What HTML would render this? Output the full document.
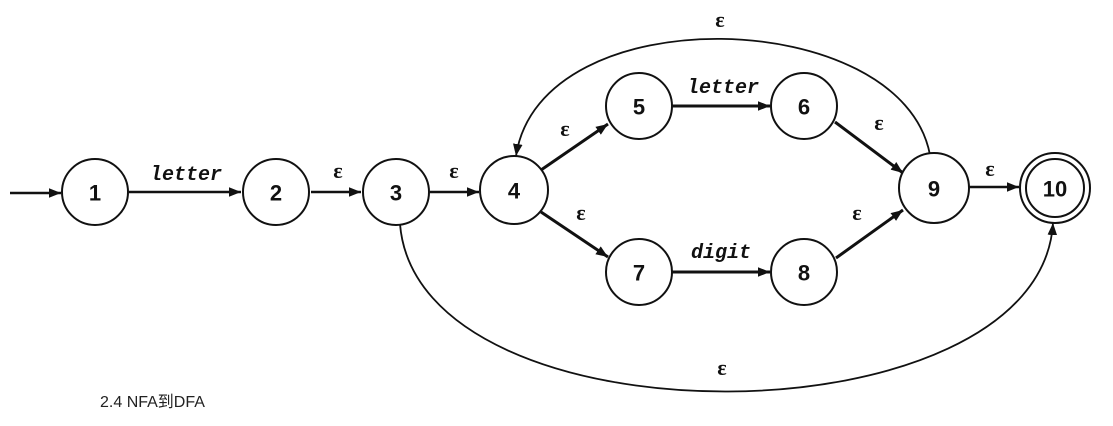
<!DOCTYPE html>
<html><head><meta charset="utf-8"><style>
html,body{margin:0;padding:0;background:#fff;width:1113px;height:426px;overflow:hidden}
svg{display:block}
.n{font-family:"Liberation Sans",sans-serif;font-size:22px;font-weight:bold;fill:#111;text-anchor:middle;dominant-baseline:central}
.l{font-family:"Liberation Mono",monospace;font-size:20px;font-weight:bold;font-style:italic;fill:#111;text-anchor:middle}
.e{font-family:"Liberation Serif",serif;font-size:22px;font-weight:bold;fill:#111;text-anchor:middle}
</style></head><body>
<svg width="1113" height="426" viewBox="0 0 1113 426">
<defs><marker id="a" viewBox="0 0 10 10" refX="10" refY="5" markerWidth="12" markerHeight="12" markerUnits="userSpaceOnUse" orient="auto"><path d="M0,1 L10,5 L0,9 z" fill="#111"/></marker></defs>
<g stroke="#111" stroke-width="2.5" fill="none" marker-end="url(#a)">
<line x1="10" y1="193" x2="61" y2="193"/>
<line x1="129" y1="192" x2="241" y2="192"/>
<line x1="311" y1="192" x2="361" y2="192"/>
<line x1="430" y1="192" x2="479" y2="192"/>
<line x1="541" y1="170" x2="608" y2="124" stroke-width="3"/>
<line x1="541" y1="212" x2="608" y2="257" stroke-width="3"/>
<line x1="672" y1="106" x2="770" y2="106" stroke-width="3"/>
<line x1="672" y1="272" x2="770" y2="272" stroke-width="3"/>
<line x1="835" y1="122" x2="903" y2="173" stroke-width="3"/>
<line x1="836" y1="258" x2="903" y2="210" stroke-width="3"/>
<line x1="969" y1="187" x2="1019" y2="187"/>
<path d="M930,155 C902,5 540,-5 516,156" stroke-width="1.8"/>
<path d="M400,224 C418,450 1040,445 1053,223" stroke-width="1.8"/>
</g>
<g stroke="#111" stroke-width="2" fill="#fff">
<circle cx="95" cy="192" r="33"/>
<circle cx="276" cy="192" r="33"/>
<circle cx="396" cy="192" r="33"/>
<circle cx="514" cy="190" r="34"/>
<circle cx="639" cy="106" r="33"/>
<circle cx="804" cy="106" r="33"/>
<circle cx="639" cy="272" r="33"/>
<circle cx="804" cy="272" r="33"/>
<circle cx="934" cy="188" r="35"/>
<circle cx="1055" cy="188" r="35"/>
<circle cx="1055" cy="188" r="29"/>
</g>
<text class="n" x="95" y="193">1</text><text class="n" x="276" y="193">2</text>
<text class="n" x="396" y="193">3</text><text class="n" x="514" y="191">4</text>
<text class="n" x="639" y="107">5</text><text class="n" x="804" y="107">6</text>
<text class="n" x="639" y="273">7</text><text class="n" x="804" y="273">8</text>
<text class="n" x="934" y="189">9</text><text class="n" x="1055" y="189">10</text>
<text class="l" x="186" y="180">letter</text>
<text class="l" x="723" y="93">letter</text>
<text class="l" x="721" y="258">digit</text>
<text class="e" x="338" y="178">ε</text><text class="e" x="454" y="178">ε</text>
<text class="e" x="565" y="136">ε</text><text class="e" x="581" y="220">ε</text>
<text class="e" x="879" y="130">ε</text><text class="e" x="857" y="220">ε</text>
<text class="e" x="990" y="176">ε</text>
<text class="e" x="720" y="27">ε</text><text class="e" x="722" y="375">ε</text>
<text x="100" y="407" style="font-family:'Liberation Sans','Noto Sans CJK SC',sans-serif;font-size:16px;fill:#222">2.4 NFA到DFA</text>
</svg>
</body></html>
